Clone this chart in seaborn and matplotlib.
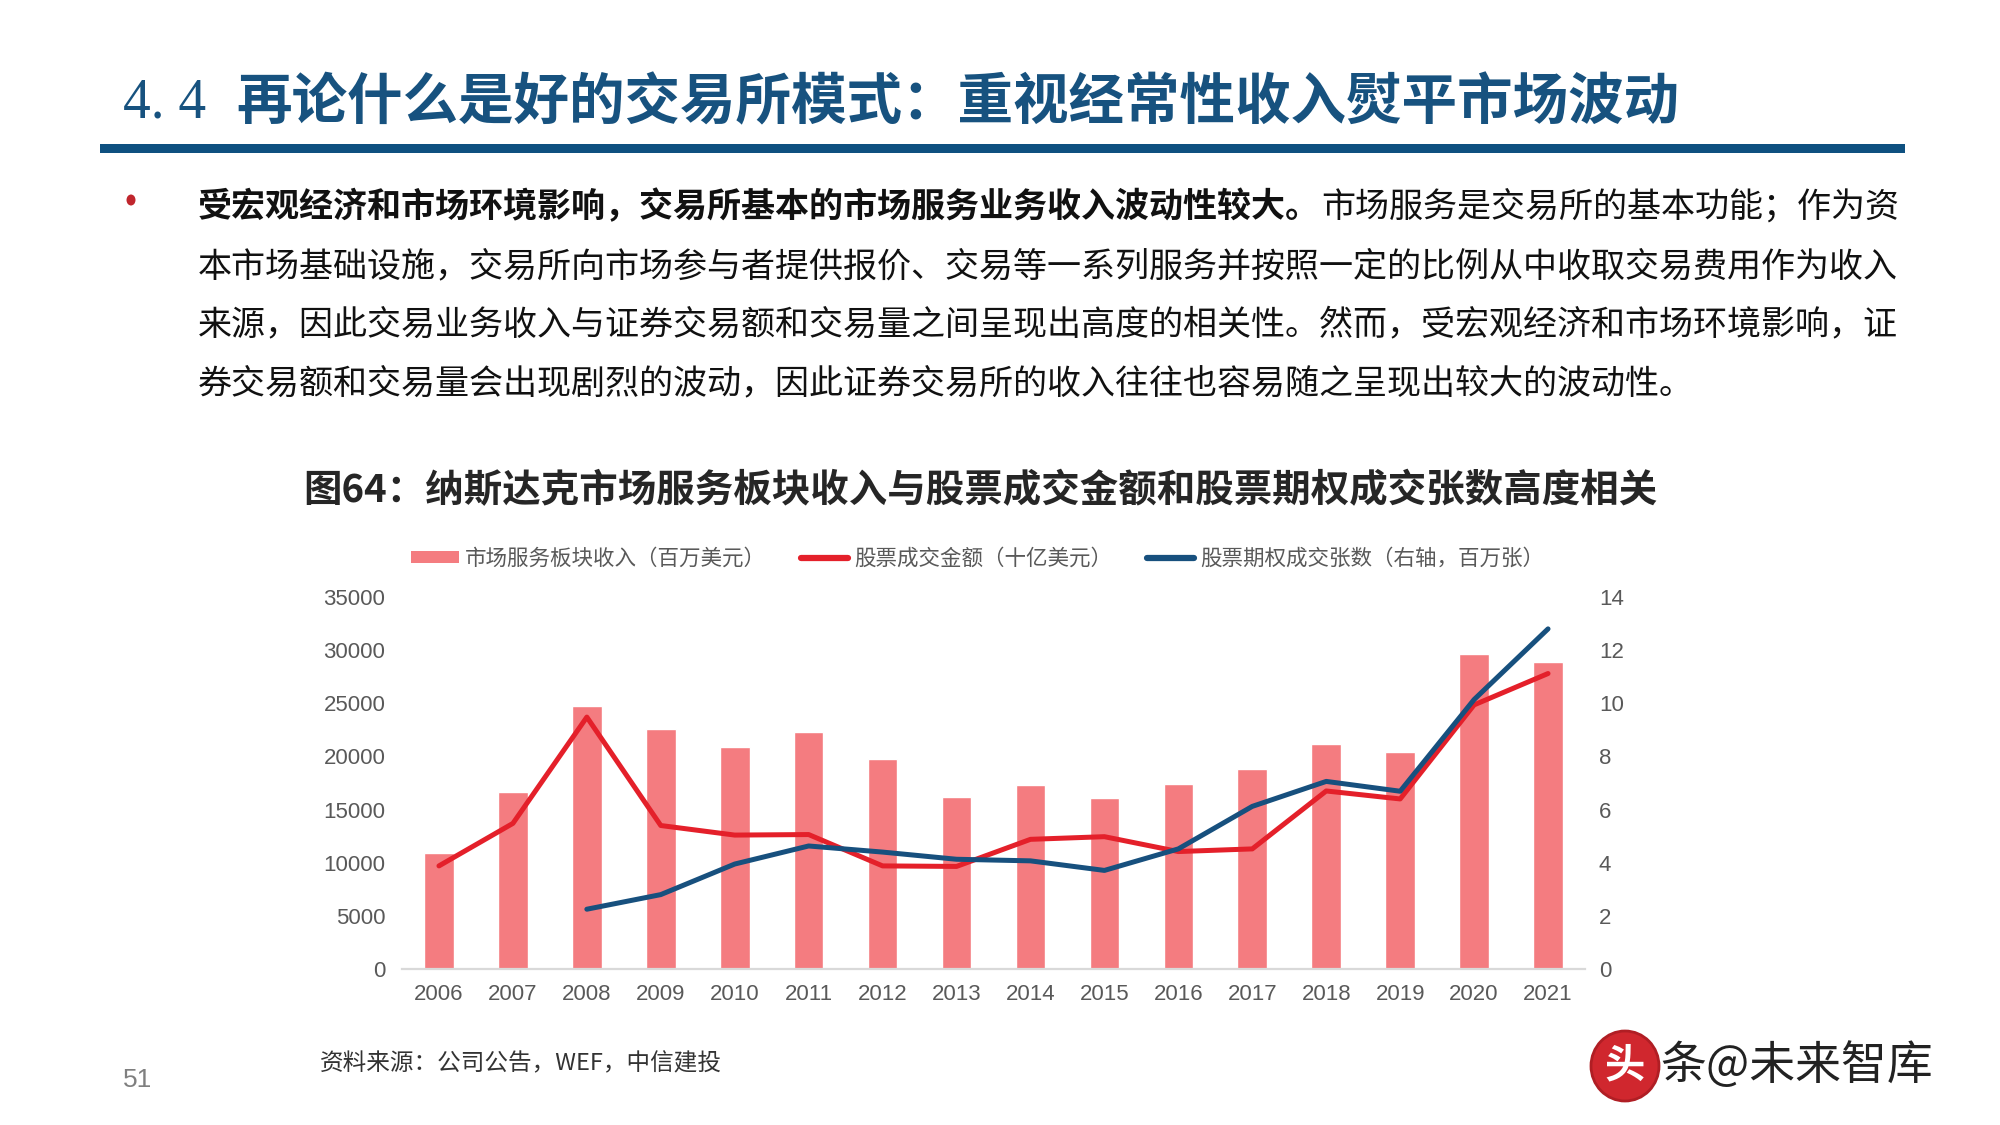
import numpy as np
import pandas as pd
import matplotlib
matplotlib.use("Agg")
import matplotlib.pyplot as plt
import seaborn as sns
from matplotlib.patches import Patch, Rectangle, Ellipse
from matplotlib.lines import Line2D

# ---------------- data ----------------
years = ["2006", "2007", "2008", "2009", "2010", "2011", "2012", "2013",
         "2014", "2015", "2016", "2017", "2018", "2019", "2020", "2021"]
market_service_revenue = [10900, 16700, 24700, 22600, 20900, 22300, 19800, 16200,
                          17300, 16100, 17450, 18800, 21150, 20450, 29650, 28850]
equity_value_traded = [9700, 13700, 23700, 13500, 12600, 12650, 9700, 9650,
                       12200, 12450, 11050, 11300, 16750, 16000, 24850, 27800]
option_contracts = [np.nan, np.nan, 2.25, 2.8, 3.95, 4.63, 4.4, 4.13,
                    4.07, 3.71, 4.52, 6.12, 7.06, 6.69, 10.14, 12.8]
left_ticks = [0, 5000, 10000, 15000, 20000, 25000, 30000, 35000]
right_ticks = [0, 2, 4, 6, 8, 10, 12, 14]

legend_labels = ["市场服务板块收入（百万美元）", "股票成交金额（十亿美元）", "股票期权成交张数（右轴，百万张）"]
page_title_num = "4. 4"
page_title = "再论什么是好的交易所模式：重视经常性收入熨平市场波动"
body_bold = "受宏观经济和市场环境影响，交易所基本的市场服务业务收入波动性较大。"
body_lines = ["市场服务是交易所的基本功能；作为资",
              "本市场基础设施，交易所向市场参与者提供报价、交易等一系列服务并按照一定的比例从中收取交易费用作为收入",
              "来源，因此交易业务收入与证券交易额和交易量之间呈现出高度的相关性。然而，受宏观经济和市场环境影响，证",
              "券交易额和交易量会出现剧烈的波动，因此证券交易所的收入往往也容易随之呈现出较大的波动性。"]
chart_title = "图64：纳斯达克市场服务板块收入与股票成交金额和股票期权成交张数高度相关"
source_text = "资料来源：公司公告，WEF，中信建投"
page_no = "51"

# ---------------- style ----------------
sns.set_theme(style="white")
plt.rcParams['font.family'] = ['Noto Sans CJK SC', 'DejaVu Sans']

BAR = "#F47C80"
RED = "#E4202A"
BLUE = "#17507E"
TITLE_BLUE = "#17527F"
GRAY = "#595959"

W, H = 2000, 1125
fig = plt.figure(figsize=(20, 11.25), dpi=100)
fig.patch.set_facecolor("white")

def fx(px):
    return px / W

def fy(py):
    return 1 - py / H

# ---------------- page header ----------------
fig.text(fx(123), fy(103), page_title_num, family=["Liberation Serif"], fontsize=40,
         color=TITLE_BLUE, ha="left", va="center")
fig.text(fx(236), fy(103), page_title, fontsize=40, fontweight="bold",
         color=TITLE_BLUE, ha="left", va="center")
fig.add_artist(Rectangle((fx(100), fy(153)), fx(1905) - fx(100), fy(144) - fy(153),
                         transform=fig.transFigure, color="#0E5080", lw=0))

# bullet
fig.add_artist(Ellipse((fx(131), fy(200)), 9 / W, 11 / H, transform=fig.transFigure,
                       color="#C0262D", lw=0))
fs_body = 24.5
em = fs_body * 100 / 72
line_y = [207, 267, 325, 384]
x0 = 198
fig.text(fx(x0), fy(line_y[0]), body_bold, fontsize=fs_body, fontweight="bold",
         color="#111111", ha="left", va="center")
fig.text(fx(x0 + len(body_bold) * em), fy(line_y[0]), body_lines[0], fontsize=fs_body,
         color="#111111", ha="left", va="center")
for y, s in zip(line_y[1:], body_lines[1:]):
    fig.text(fx(x0), fy(y), s, fontsize=fs_body, color="#111111", ha="left", va="center")

# chart title
fig.text(fx(980), fy(491), chart_title, fontsize=27.7, fontweight="bold",
         color="#262626", ha="center", va="center")

# ---------------- chart ----------------
ax = fig.add_axes([fx(402), fy(969), fx(1585) - fx(402), fy(597) - fy(969)])
df = pd.DataFrame({"year": years, "rev": market_service_revenue,
                   "val": equity_value_traded, "opt": option_contracts})
df["pos"] = np.arange(len(df))

sns.barplot(data=df, x="year", y="rev", order=years, color=BAR, saturation=1,
            width=0.4, ax=ax, zorder=2)
sns.lineplot(data=df, x="pos", y="val", color=RED, linewidth=3.6, ax=ax,
             legend=False, zorder=3)
ax.set_xlim(-0.5, len(years) - 0.5)
ax.set_ylim(0, 35000)
ax.set_yticks(left_ticks)
ax.set_yticklabels([str(t) for t in left_ticks])
ax.set_xticks(range(len(years)))
ax.set_xticklabels(years)
ax.set_xlabel("")
ax.set_ylabel("")

ax2 = ax.twinx()
sns.lineplot(data=df, x="pos", y="opt", color=BLUE, linewidth=3.6, ax=ax2,
             legend=False, zorder=4)
ax2.set_ylim(0, 14)
ax2.set_yticks(right_ticks)
ax2.set_yticklabels([str(t) for t in right_ticks])
ax2.set_ylabel("")
ax2.set_xlim(-0.5, len(years) - 0.5)

for a in (ax, ax2):
    for s in a.spines.values():
        s.set_visible(False)
    a.grid(False)
ax.spines["bottom"].set_visible(True)
ax.spines["bottom"].set_color("#D9D9D9")
ax.spines["bottom"].set_linewidth(1.6)

ax.tick_params(axis="y", length=0, pad=12, labelsize=16, labelcolor=GRAY)
ax.tick_params(axis="x", length=0, pad=11, labelsize=16, labelcolor=GRAY)
ax2.tick_params(axis="y", length=0, pad=10, labelsize=16, labelcolor=GRAY)
for lab in ax.get_xticklabels() + ax.get_yticklabels() + ax2.get_yticklabels():
    lab.set_family(["Liberation Sans", "DejaVu Sans"])

handles = [Patch(facecolor=BAR, edgecolor="none"),
           Line2D([0], [0], color=RED, lw=4.5),
           Line2D([0], [0], color=BLUE, lw=4.5)]
fig.legend(handles, legend_labels, loc="center", bbox_to_anchor=(fx(978), fy(559)),
           ncol=3, frameon=False, fontsize=15.5, handlelength=2.2, handleheight=0.5,
           handletextpad=0.3, columnspacing=1.6, labelcolor=GRAY)

# ---------------- footer ----------------
fig.text(fx(320), fy(1064), source_text, fontsize=17, style="italic",
         color="#333333", ha="left", va="center")
fig.text(fx(123), fy(1080), page_no, family=["Liberation Sans"], fontsize=19,
         color="#7F7F7F", ha="left", va="center")

# watermark
fig.add_artist(Ellipse((fx(1625), fy(1066)), 68 / W, 70 / H, transform=fig.transFigure,
                       facecolor="#D0272E", edgecolor="#B01E24", lw=2))
fig.text(fx(1625), fy(1066), "头", fontsize=29, fontweight="bold", color="white",
         ha="center", va="center")
fig.text(fx(1660), fy(1066), "条@未来智库", fontsize=33, color="#222222",
         ha="left", va="center")

fig.savefig("out.png", dpi=100, facecolor="white")
